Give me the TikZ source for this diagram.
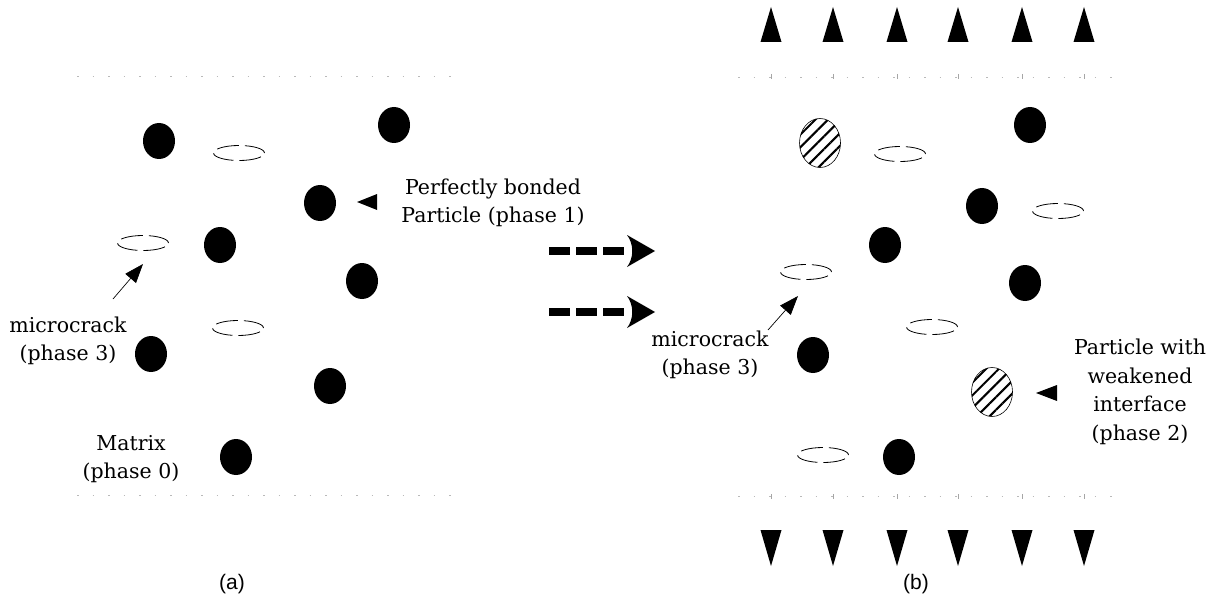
\documentclass[tikz,border=0pt]{standalone}
\usepackage{fontspec}
\setmainfont{DejaVu Serif}
\setsansfont{Liberation Sans}
\usetikzlibrary{arrows.meta,shapes.geometric,patterns.meta}
\begin{document}
\begin{tikzpicture}[x=1pt,y=-1pt,
 particle/.style={ellipse, fill=black, minimum width=32pt, minimum height=36pt, inner sep=0pt},
 weak/.style={ellipse, draw, line width=0.6pt, minimum width=41pt, minimum height=49pt, inner sep=0pt, pattern={Lines[angle=45,distance=9pt,line width=2pt]}},
 crack/.style={ellipse, draw, line width=0.8pt, dash pattern=on 22pt off 6pt, minimum width=51pt, minimum height=15pt, inner sep=0pt},
 lbl/.style={font=\fontsize{20.5}{28.5}\selectfont, align=center, inner sep=0pt},
 captxt/.style={font=\sffamily\fontsize{21}{24}\selectfont, inner sep=0pt},
 ptr/.style={-{Triangle[length=19pt,width=14pt]}, line width=0.7pt},
 border/.style={gray!55, line width=0.8pt, dash pattern=on 1.5pt off 14pt},
 bigarrow/.style={line width=8pt, dash pattern=on 21pt off 6pt},
]
\useasboundingbox (0,0) rectangle (1217,604);

% ---------- panel (a) ----------
\draw[border] (77,76) -- (455,76);
\draw[border] (77,495) -- (455,495);

\node[particle] (a1) at (159,141) {};
\node[particle] (a2) at (394,125) {};
\node[particle] (a3) at (320,203) {};
\node[particle] (a4) at (220,245) {};
\node[particle] (a5) at (362,281) {};
\node[particle] (a6) at (151,354) {};
\node[particle] (a7) at (330,386) {};
\node[particle] (a8) at (236,457) {};

\node[crack] (ac1) at (239,153) {};
\node[crack] (ac2) at (143,243) {};
\node[crack] (ac3) at (238,328) {};

\node[lbl] (lmcA) at (68,341) {microcrack\\(phase 3)};
\node[lbl] (lmat) at (131,459) {Matrix\\(phase 0)};
\node[lbl] (lpb) at (493,203) {Perfectly bonded\\Particle (phase 1)};

\coordinate (tA) at (113,299);
\coordinate (hA) at (143,264);
\draw[ptr] (tA) -- (hA);

\fill (357,202) -- (377,194) -- (377,210) -- cycle;

\node[captxt] (capa) at (232,584) {(a)};

% ---------- transition arrows ----------
\coordinate (ar1s) at (549,251);
\coordinate (ar1e) at (624,251);
\coordinate (ar2s) at (549,312);
\coordinate (ar2e) at (624,312);
\draw[bigarrow] (ar1s) -- (ar1e);
\draw[bigarrow] (ar2s) -- (ar2e);
\fill (627,235) -- (655,251) -- (627,267) .. controls (634,258) and (634,244) .. (627,235);
\fill (627,296) -- (655,312) -- (627,328) .. controls (634,319) and (634,305) .. (627,296);

% ---------- panel (b) ----------
\draw[border] (738,77) -- (1117,77);
\draw[border] (738,496) -- (1117,496);

\foreach \x in {771,833,897,958,1022,1084}{
  \fill (\x-10.5,42) -- (\x,7) -- (\x+10.5,42) -- cycle;
  \fill (\x-10.5,530) -- (\x,566) -- (\x+10.5,530) -- cycle;
  \draw[gray!70, line width=0.6pt] (\x,74) -- (\x,79);
  \draw[gray!70, line width=0.6pt] (\x,494) -- (\x,499);
}

\node[weak] (w1) at (820,143) {};
\node[weak] (w2) at (992,392) {};

\node[particle] (b1) at (1030,125) {};
\node[particle] (b2) at (982,206) {};
\node[particle] (b3) at (885,245) {};
\node[particle] (b4) at (1025,283) {};
\node[particle] (b5) at (813,355) {};
\node[particle] (b6) at (899,457) {};

\node[crack] (bc1) at (900,154) {};
\node[crack] (bc2) at (1058,211) {};
\node[crack] (bc3) at (806,272) {};
\node[crack] (bc4) at (932,327) {};
\node[crack] (bc5) at (823,455) {};

\node[lbl] (lmcB) at (710,355) {microcrack\\(phase 3)};
\node[lbl] (lweak) at (1140,392) {Particle with\\weakened\\interface\\(phase 2)};

\coordinate (tB) at (768,330);
\coordinate (hB) at (798,296);
\draw[ptr] (tB) -- (hB);

\fill (1036,393) -- (1057,385) -- (1057,401) -- cycle;

\node[captxt] (capb) at (916,584) {(b)};
\end{tikzpicture}
\end{document}
